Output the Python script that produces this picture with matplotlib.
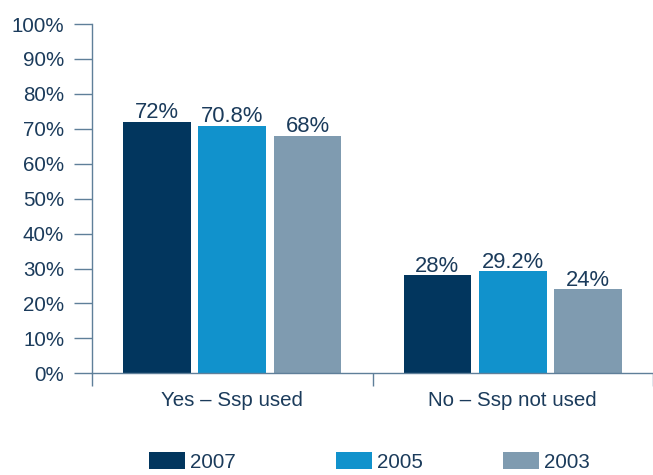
import numpy as np
import matplotlib.pyplot as plt

plt.rcParams["font.family"] = ["Liberation Sans", "DejaVu Sans"]

# Survey answers by year
groups = ["Yes \u2013 Ssp used", "No \u2013 Ssp not used"]
years = ["2007", "2005", "2003"]
share_2007 = [72, 28]
share_2005 = [70.8, 29.2]
share_2003 = [68, 24]
value_labels = [["72%", "28%"], ["70.8%", "29.2%"], ["68%", "24%"]]

colors = ["#02365e", "#1192cc", "#7f9bb0"]
text_color = "#1b3b5b"
axis_color = "#5f7f99"
fs = 14.8

fig = plt.figure(figsize=(6.53, 4.75), dpi=100)
ax = fig.add_axes([92 / 653, (475 - 373.3) / 475, 561 / 653, 349.3 / 475])

x = np.arange(len(groups))
unit = 282.5  # px per group
width = 68 / unit
step = 76 / unit

handles = []
for i, (vals, lab) in enumerate(zip([share_2007, share_2005, share_2003], years)):
    bars = ax.bar(x + (i - 1) * step, vals, width, color=colors[i], label=lab, zorder=2)
    handles.append(bars)
    for b, txt in zip(bars, value_labels[i]):
        ax.annotate(txt, (b.get_x() + b.get_width() / 2, b.get_height()),
                    xytext=(0, 3.5), textcoords="offset pixels",
                    ha="center", va="baseline", fontsize=15.8, color=text_color)

ax.set_ylim(0, 100)
ax.set_xlim(-0.5, -0.5 + 561 / unit)
ax.set_yticks(np.arange(0, 101, 10))
ax.set_yticklabels([f"{v}%" for v in range(0, 101, 10)])
ax.set_xticks(x)
ax.set_xticklabels(groups)
ax.set_xticks([-0.5, 0.5, 1.5], minor=True)

ax.tick_params(axis="y", length=13, width=1, color=axis_color, pad=7,
               labelsize=fs, labelcolor=text_color)
ax.tick_params(axis="x", which="major", length=0, pad=13,
               labelsize=fs, labelcolor=text_color)
ax.tick_params(axis="x", which="minor", length=9, width=1, color=axis_color)

for side in ["top", "right"]:
    ax.spines[side].set_visible(False)
for side in ["left", "bottom"]:
    ax.spines[side].set_color(axis_color)
    ax.spines[side].set_linewidth(1)

# one legend entry per year, placed along the bottom
legend_x = [149, 336, 503]
for h, lab, lx in zip(handles, years, legend_x):
    leg = fig.legend([h], [lab], loc="center left",
                     bbox_to_anchor=(lx / 653, 1 - 462 / 475), frameon=False,
                     fontsize=fs, handlelength=1.75, handleheight=0.85,
                     handletextpad=0.25, borderpad=0, borderaxespad=0)
    for t in leg.get_texts():
        t.set_color(text_color)

fig.savefig("out.png", dpi=100)
